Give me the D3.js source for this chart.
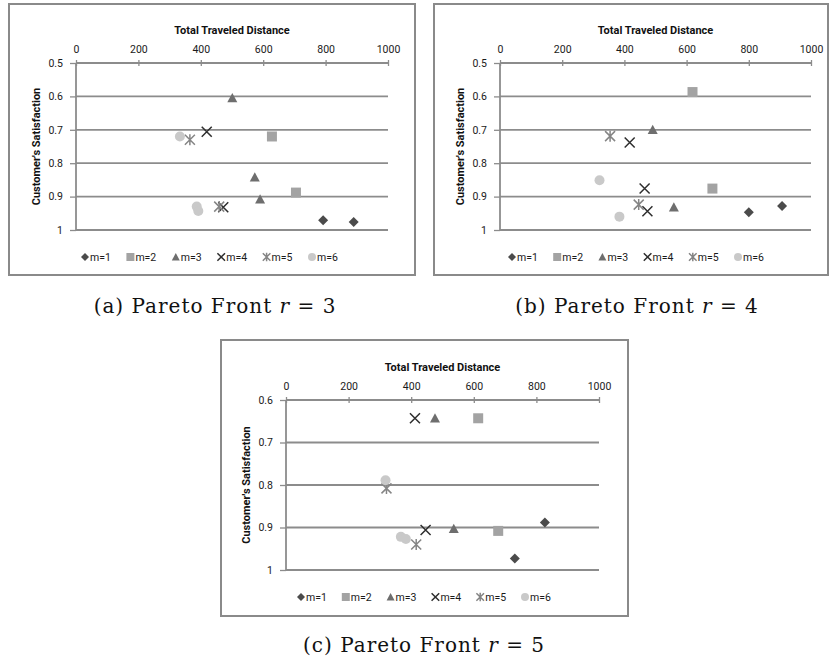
<!DOCTYPE html>
<html>
<head>
<meta charset="utf-8">
<script src="https://cdn.jsdelivr.net/npm/d3@7.9.0/dist/d3.min.js"></script>
<style>
  body { margin: 0; background: #fff; }
  svg text { font-family: Roboto, "Liberation Sans", sans-serif; }
  .cap { font-family: "DejaVu Serif", "Liberation Serif", serif; letter-spacing: 1px; }
</style>
</head>
<body>
<svg id="chart" width="830" height="661"></svg>
<script>
// series labels (same for every panel)
const seriesNames = ["m=1", "m=2", "m=3", "m=4", "m=5", "m=6"];
const xTicks = [0, 200, 400, 600, 800, 1000];

// r = 3
const distR3 = [[792, 890], [628, 705], [501, 573, 590], [419, 472], [365, 459], [333, 387, 392]];
const satR3  = [[0.971, 0.976], [0.72, 0.888], [0.605, 0.842, 0.908], [0.706, 0.932], [0.73, 0.93], [0.72, 0.93, 0.943]];
const yTicksR3 = [0.5, 0.6, 0.7, 0.8, 0.9, 1];

// r = 4
const distR4 = [[800, 907], [619, 683], [491, 559], [417, 465, 474], [354, 446], [320, 384]];
const satR4  = [[0.947, 0.928], [0.587, 0.876], [0.70, 0.932], [0.738, 0.876, 0.944], [0.719, 0.924], [0.851, 0.96]];
const yTicksR4 = [0.5, 0.6, 0.7, 0.8, 0.9, 1];

// r = 5
const distR5 = [[731, 827], [614, 678], [476, 536], [412, 446], [321, 416], [318, 367, 383]];
const satR5  = [[0.973, 0.888], [0.643, 0.908], [0.643, 0.903], [0.643, 0.906], [0.808, 0.94], [0.789, 0.922, 0.927]];
const yTicksR5 = [0.6, 0.7, 0.8, 0.9, 1];

const captions = ["(a) Pareto Front ", "(b) Pareto Front ", "(c) Pareto Front "];
const captionR = ["3", "4", "5"];

const colors = ["#4b4b4b", "#a3a3a3", "#6e6e6e", "#2e2e2e", "#858585", "#c9c9c9"];
const shapes = ["diamond", "square", "triangle", "x", "star", "circle"];

const panels = [
  { frame: [9, 4, 415, 275], plot: [76, 63, 388, 230], legendX: 85, legendStep: 45.4, dist: distR3, sat: satR3, yTicks: yTicksR3, capX: 215, capY: 313 },
  { frame: [434, 4, 828, 275], plot: [500, 63, 811, 230], legendX: 512, legendStep: 45.2, dist: distR4, sat: satR4, yTicks: yTicksR4, capX: 637, capY: 313 },
  { frame: [221, 340, 628, 616], plot: [286, 400, 599, 570], legendX: 301, legendStep: 44.8, dist: distR5, sat: satR5, yTicks: yTicksR5, capX: 424, capY: 652 }
];

function markerPath(type, s) {
  const p = d3.path();
  if (type === "diamond") {
    p.moveTo(0, -s); p.lineTo(s, 0); p.lineTo(0, s); p.lineTo(-s, 0); p.closePath();
  } else if (type === "square") {
    p.rect(-s, -s, 2 * s, 2 * s);
  } else if (type === "triangle") {
    p.moveTo(0, -s); p.lineTo(s, s * 0.85); p.lineTo(-s, s * 0.85); p.closePath();
  } else if (type === "x") {
    p.moveTo(-s, -s); p.lineTo(s, s); p.moveTo(-s, s); p.lineTo(s, -s);
  } else if (type === "star") {
    p.moveTo(-s, -s); p.lineTo(s, s); p.moveTo(-s, s); p.lineTo(s, -s);
    p.moveTo(0, -s * 1.1); p.lineTo(0, s * 1.1);
  } else {
    p.arc(0, 0, s, 0, 2 * Math.PI);
  }
  return p.toString();
}

function drawMarker(g, i, s) {
  const stroked = shapes[i] === "x" || shapes[i] === "star";
  g.append("path")
    .attr("d", markerPath(shapes[i], s))
    .attr("fill", stroked ? "none" : colors[i])
    .attr("stroke", stroked ? colors[i] : "none")
    .attr("stroke-width", stroked ? 1.5 : 0);
}

const svg = d3.select("#chart");
svg.append("rect").attr("width", 830).attr("height", 661).attr("fill", "#fff");

panels.forEach((pn, k) => {
  const [fx0, fy0, fx1, fy1] = pn.frame;
  const [px0, py0, px1, py1] = pn.plot;
  const g = svg.append("g");

  g.append("rect")
    .attr("x", fx0).attr("y", fy0)
    .attr("width", fx1 - fx0).attr("height", fy1 - fy0)
    .attr("fill", "#fff").attr("stroke", "#8a8a8a").attr("stroke-width", 2);

  const x = d3.scaleLinear().domain([0, 1000]).range([px0, px1]);
  const yMin = pn.yTicks[0];
  const y = d3.scaleLinear().domain([yMin, 1]).range([py0, py1]);

  // gridlines
  g.selectAll(".grid")
    .data(pn.yTicks.slice(1))
    .join("line")
    .attr("x1", px0).attr("x2", px1)
    .attr("y1", d => y(d)).attr("y2", d => y(d))
    .attr("stroke", "#8c8c8c").attr("stroke-width", 1.8);

  // x axis along the top
  const xa = g.append("g")
    .attr("transform", `translate(0,${py0})`)
    .call(d3.axisTop(x).tickValues(xTicks).tickSize(3).tickPadding(7).tickFormat(d => d));
  xa.select(".domain").attr("stroke", "#8c8c8c").attr("stroke-width", 1.8).attr("d", `M${px0},0H${px1}`);
  xa.selectAll(".tick line").attr("y1", 3).attr("y2", -3).attr("stroke", "#8c8c8c").attr("stroke-width", 1.3);
  xa.selectAll(".tick text").attr("font-size", 10.5).attr("fill", "#1a1a1a").attr("font-family", "Roboto, sans-serif");

  // y axis on the left
  const ya = g.append("g")
    .attr("transform", `translate(${px0},0)`)
    .call(d3.axisLeft(y).tickValues(pn.yTicks).tickSize(6).tickPadding(7).tickFormat(d => String(d)));
  ya.select(".domain").attr("stroke", "#8c8c8c").attr("stroke-width", 1.8).attr("d", `M0,${py0}V${py1}`);
  ya.selectAll(".tick line").attr("stroke", "#8c8c8c").attr("stroke-width", 1.3);
  ya.selectAll(".tick text").attr("font-size", 10.5).attr("fill", "#1a1a1a").attr("font-family", "Roboto, sans-serif");

  // axis titles
  g.append("text")
    .attr("x", (px0 + px1) / 2).attr("y", py0 - 29)
    .attr("text-anchor", "middle")
    .attr("font-size", 11).attr("font-weight", "bold").attr("fill", "#111")
    .text("Total Traveled Distance");
  g.append("text")
    .attr("transform", `translate(${px0 - 36},${(py0 + py1) / 2}) rotate(-90)`)
    .attr("text-anchor", "middle")
    .attr("font-size", 11).attr("font-weight", "bold").attr("fill", "#111")
    .text("Customer's Satisfaction");

  // points
  pn.dist.forEach((xs, i) => {
    xs.forEach((v, j) => {
      const mg = g.append("g").attr("transform", `translate(${x(v)},${y(pn.sat[i][j])})`);
      drawMarker(mg, i, 5);
    });
  });

  // legend
  const ly = py1 + 27;
  seriesNames.forEach((name, i) => {
    const lx = pn.legendX + i * pn.legendStep;
    const lg = g.append("g").attr("transform", `translate(${lx},${ly})`);
    drawMarker(lg, i, shapes[i] === "x" || shapes[i] === "star" ? 3.8 : 4);
    lg.append("text")
      .attr("x", 5).attr("y", 3.8)
      .attr("font-size", 10.5).attr("fill", "#1a1a1a")
      .text(name);
  });

  // caption
  const cap = svg.append("text")
    .attr("class", "cap")
    .attr("x", pn.capX).attr("y", pn.capY)
    .attr("text-anchor", "middle")
    .attr("font-size", 20).attr("fill", "#111");
  cap.append("tspan").text(captions[k]);
  cap.append("tspan").attr("font-style", "italic").text("r");
  cap.append("tspan").text(" = " + captionR[k]);
});
</script>
</body>
</html>
